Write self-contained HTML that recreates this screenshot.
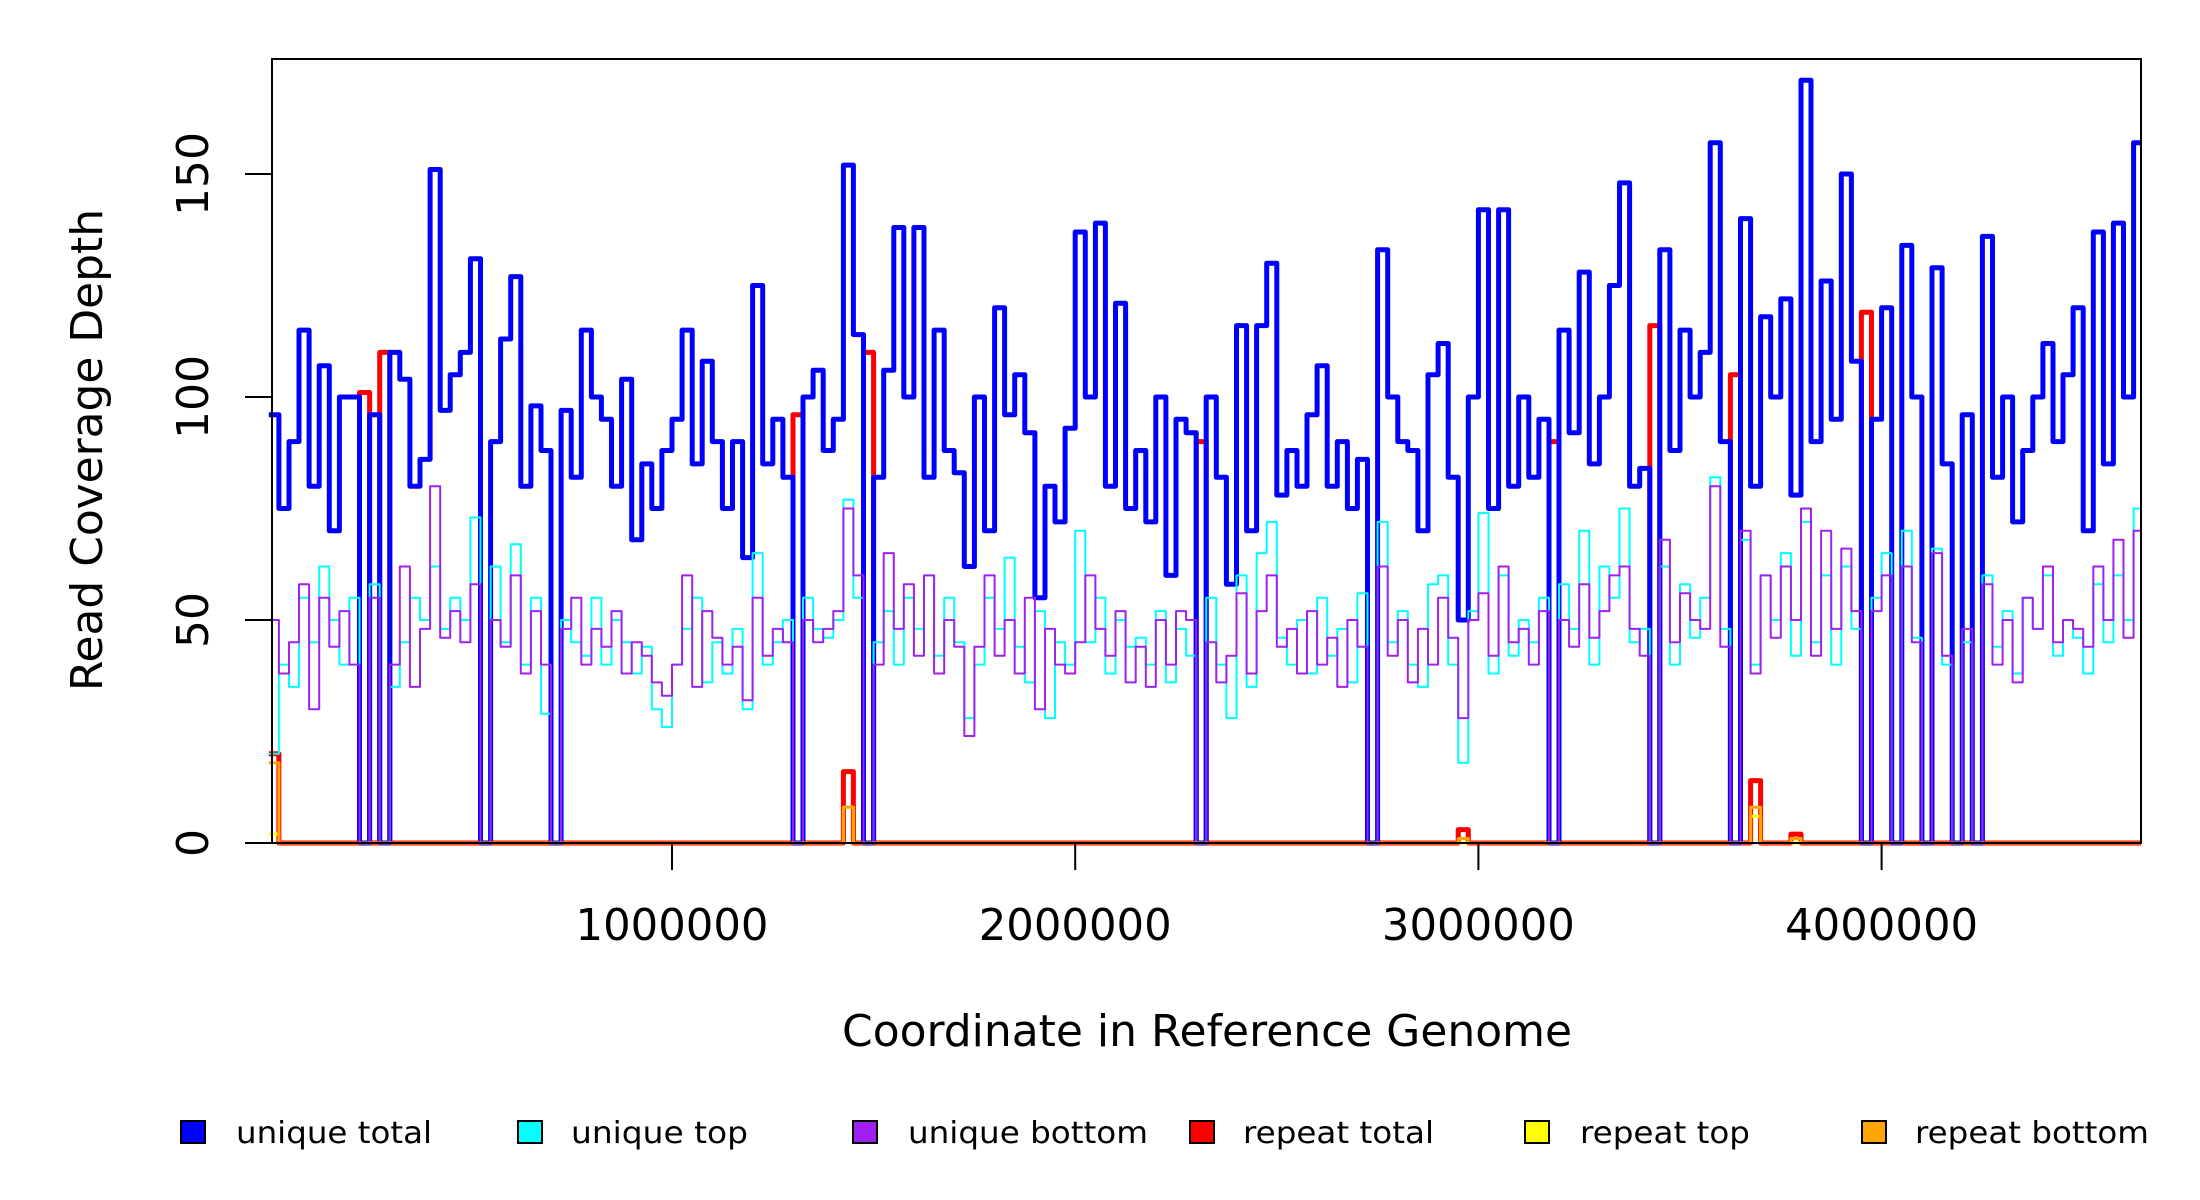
<!DOCTYPE html>
<html><head><meta charset="utf-8"><style>
html,body{margin:0;padding:0;background:#fff;}
svg{display:block;font-family:"DejaVu Sans","Liberation Sans",sans-serif;}
</style></head><body>
<svg id="chart" width="2200" height="1200" viewBox="0 0 2200 1200" xmlns="http://www.w3.org/2000/svg">
<rect x="0" y="0" width="2200" height="1200" fill="#fff"/>
<g id="series"></g>
<rect x="272" y="59" width="1869" height="784" fill="none" stroke="#000" stroke-width="2"/>
<g id="axes"></g>
<text x="1207" y="1046" text-anchor="middle" font-size="44" textLength="730" lengthAdjust="spacingAndGlyphs">Coordinate in Reference Genome</text>
<text transform="translate(102,450) rotate(-90)" text-anchor="middle" font-size="44" textLength="482" lengthAdjust="spacingAndGlyphs">Read Coverage Depth</text>
<g font-size="30">
 <g><rect x="181" y="1121" width="24" height="22" fill="#0000ff" stroke="#000" stroke-width="2"/><text x="236" y="1143" textLength="196" lengthAdjust="spacingAndGlyphs">unique total</text></g>
 <g><rect x="518" y="1121" width="24" height="22" fill="#00ffff" stroke="#000" stroke-width="2"/><text x="571" y="1143" textLength="177" lengthAdjust="spacingAndGlyphs">unique top</text></g>
 <g><rect x="853" y="1121" width="24" height="22" fill="#a020f0" stroke="#000" stroke-width="2"/><text x="908" y="1143" textLength="240" lengthAdjust="spacingAndGlyphs">unique bottom</text></g>
 <g><rect x="1190" y="1121" width="24" height="22" fill="#ff0000" stroke="#000" stroke-width="2"/><text x="1243" y="1143" textLength="191" lengthAdjust="spacingAndGlyphs">repeat total</text></g>
 <g><rect x="1525" y="1121" width="24" height="22" fill="#ffff00" stroke="#000" stroke-width="2"/><text x="1580" y="1143" textLength="170" lengthAdjust="spacingAndGlyphs">repeat top</text></g>
 <g><rect x="1862" y="1121" width="24" height="22" fill="#ffa500" stroke="#000" stroke-width="2"/><text x="1915" y="1143" textLength="234" lengthAdjust="spacingAndGlyphs">repeat bottom</text></g>
</g>
</svg>
<script>
const binSize = 25000;
const genomeLength = 4644000;
const xTicks = [1000000, 2000000, 3000000, 4000000];
const xTickLabels = ["1000000", "2000000", "3000000", "4000000"];
const yTicks = [0, 50, 100, 150];
const yTickLabels = ["0", "50", "100", "150"];
const uniqueTotal = [
96,75,90,115,80,107,70,100,100,0,
96,0,110,104,80,86,151,97,105,110,
131,0,90,113,127,80,98,88,0,97,
82,115,100,95,80,104,68,85,75,88,
95,115,85,108,90,75,90,64,125,85,
95,82,0,100,106,88,95,152,114,0,
82,106,138,100,138,82,115,88,83,62,
100,70,120,96,105,92,55,80,72,93,
137,100,139,80,121,75,88,72,100,60,
95,92,0,100,82,58,116,70,116,130,
78,88,80,96,107,80,90,75,86,0,
133,100,90,88,70,105,112,82,50,100,
142,75,142,80,100,82,95,0,115,92,
128,85,100,125,148,80,84,0,133,88,
115,100,110,157,90,0,140,80,118,100,
122,78,171,90,126,95,150,108,0,95,
120,0,134,100,0,129,85,0,96,0,
136,82,100,72,88,100,112,90,105,120,
70,137,85,139,100,157];
const uniqueTop = [
20,40,35,55,45,62,50,40,55,0,
58,0,35,45,55,50,62,48,55,50,
73,0,62,45,67,40,55,29,0,50,
45,42,55,40,50,45,38,44,30,26,
40,48,55,36,45,38,48,30,65,40,
45,50,0,55,48,46,50,77,55,0,
45,52,40,55,48,60,42,55,45,28,
40,55,48,64,44,36,52,28,45,40,
70,45,55,38,50,44,46,40,52,36,
48,42,0,55,40,28,60,35,65,72,
46,40,50,38,55,42,48,36,56,0,
72,45,52,40,35,58,60,40,18,52,
74,38,60,42,50,45,55,0,58,48,
70,40,62,55,75,45,48,0,62,40,
58,46,55,82,48,0,68,40,60,50,
65,42,72,45,60,40,62,48,0,55,
65,0,70,46,0,66,40,0,45,0,
60,44,52,38,55,48,60,42,50,46,
38,58,45,60,50,75];
const uniqueBottom = [
50,38,45,58,30,55,44,52,40,0,
55,0,40,62,35,48,80,46,52,45,
58,0,50,44,60,38,52,40,0,48,
55,40,48,44,52,38,45,42,36,33,
40,60,35,52,46,40,44,32,55,42,
48,45,0,50,45,48,52,75,60,0,
40,65,48,58,42,60,38,50,44,24,
44,60,42,50,38,55,30,48,40,38,
45,60,48,42,52,36,44,35,50,40,
52,50,0,45,36,42,56,38,52,60,
44,48,38,52,40,46,35,50,44,0,
62,42,50,36,48,40,55,46,28,50,
56,42,62,45,48,40,52,0,50,44,
58,46,52,60,62,48,42,0,68,45,
56,50,48,80,44,0,70,38,60,46,
62,50,75,42,70,48,66,52,0,52,
60,0,62,45,0,65,42,0,48,0,
58,40,50,36,55,48,62,45,50,48,
44,62,50,68,46,70];
// repeat series are zero except at these bins
const repeatBins   = [0, 9, 11, 52, 57, 59, 92, 118, 127, 137, 145, 147, 151, 158];
const repeatTotal  = [20, 101, 110, 96, 16, 110, 90, 3, 90, 116, 105, 14, 2, 119];
const repeatTop    = [2, 0, 0, 0, 8, 0, 0, 0, 0, 0, 0, 6, 0, 0];
const repeatBottom = [18, 0, 0, 0, 8, 0, 0, 1, 0, 0, 0, 8, 1, 0];

const X0 = 268.8, PXM = 403.2 / 1e6, XR = 2141;
const Y0 = 843, PYU = 4.46;
function xs(v){ return Math.min(XR, X0 + v * PXM); }
function ys(v){ return Y0 - v * PYU; }
const NS = "http://www.w3.org/2000/svg";
const series = document.getElementById('series');
const axes = document.getElementById('axes');
const nBins = uniqueTotal.length;

function expand(vals){
  const out = new Array(nBins).fill(0);
  repeatBins.forEach((b, i) => { out[b] = vals[i]; });
  return out;
}
function stepPath(vals, color, width, name){
  let d = "";
  for (let i = 0; i < vals.length; i++) {
    const xa = xs(i * binSize), xb = xs(Math.min((i + 1) * binSize, genomeLength));
    const y = ys(vals[i]);
    d += (i === 0 ? "M" : "L") + xa.toFixed(1) + "," + y.toFixed(1) + "L" + xb.toFixed(1) + "," + y.toFixed(1);
  }
  const p = document.createElementNS(NS, 'path');
  p.setAttribute('d', d);
  p.setAttribute('fill', 'none');
  p.setAttribute('stroke', color);
  p.setAttribute('stroke-width', width);
  p.setAttribute('stroke-linejoin', 'round');
  
  
  series.appendChild(p);
}
stepPath(expand(repeatTotal), '#ff0000', 5, 'repeat-total-line');
stepPath(uniqueTotal, '#0000ff', 5, 'unique-total-line');
stepPath(uniqueTop, '#00ffff', 2, 'unique-top-line');
stepPath(uniqueBottom, '#a020f0', 2, 'unique-bottom-line');
stepPath(expand(repeatTop), '#ffff00', 3, 'repeat-top-line');
stepPath(expand(repeatBottom), '#ffa500', 3, 'repeat-bottom-line');

xTicks.forEach((t, i) => {
  const x = xs(t);
  const l = document.createElementNS(NS, 'line');
  l.setAttribute('x1', x); l.setAttribute('x2', x);
  l.setAttribute('y1', Y0); l.setAttribute('y2', Y0 + 27);
  l.setAttribute('stroke', '#000'); l.setAttribute('stroke-width', '2');
  
  
  axes.appendChild(l);
  const tx = document.createElementNS(NS, 'text');
  tx.setAttribute('x', x); tx.setAttribute('y', 940);
  tx.setAttribute('text-anchor', 'middle'); tx.setAttribute('font-size', '44');
  tx.setAttribute('textLength', '193'); tx.setAttribute('lengthAdjust', 'spacingAndGlyphs');
  tx.textContent = xTickLabels[i];
  
  
  axes.appendChild(tx);
});
yTicks.forEach((t, i) => {
  const y = ys(t);
  const l = document.createElementNS(NS, 'line');
  l.setAttribute('x1', 245); l.setAttribute('x2', 272);
  l.setAttribute('y1', y); l.setAttribute('y2', y);
  l.setAttribute('stroke', '#000'); l.setAttribute('stroke-width', '2');
  
  
  axes.appendChild(l);
  const tx = document.createElementNS(NS, 'text');
  tx.setAttribute('transform', 'translate(208,' + y + ') rotate(-90)');
  tx.setAttribute('text-anchor', 'middle'); tx.setAttribute('font-size', '44');
  tx.textContent = yTickLabels[i];
  
  
  axes.appendChild(tx);
});
</script>
</body></html>
